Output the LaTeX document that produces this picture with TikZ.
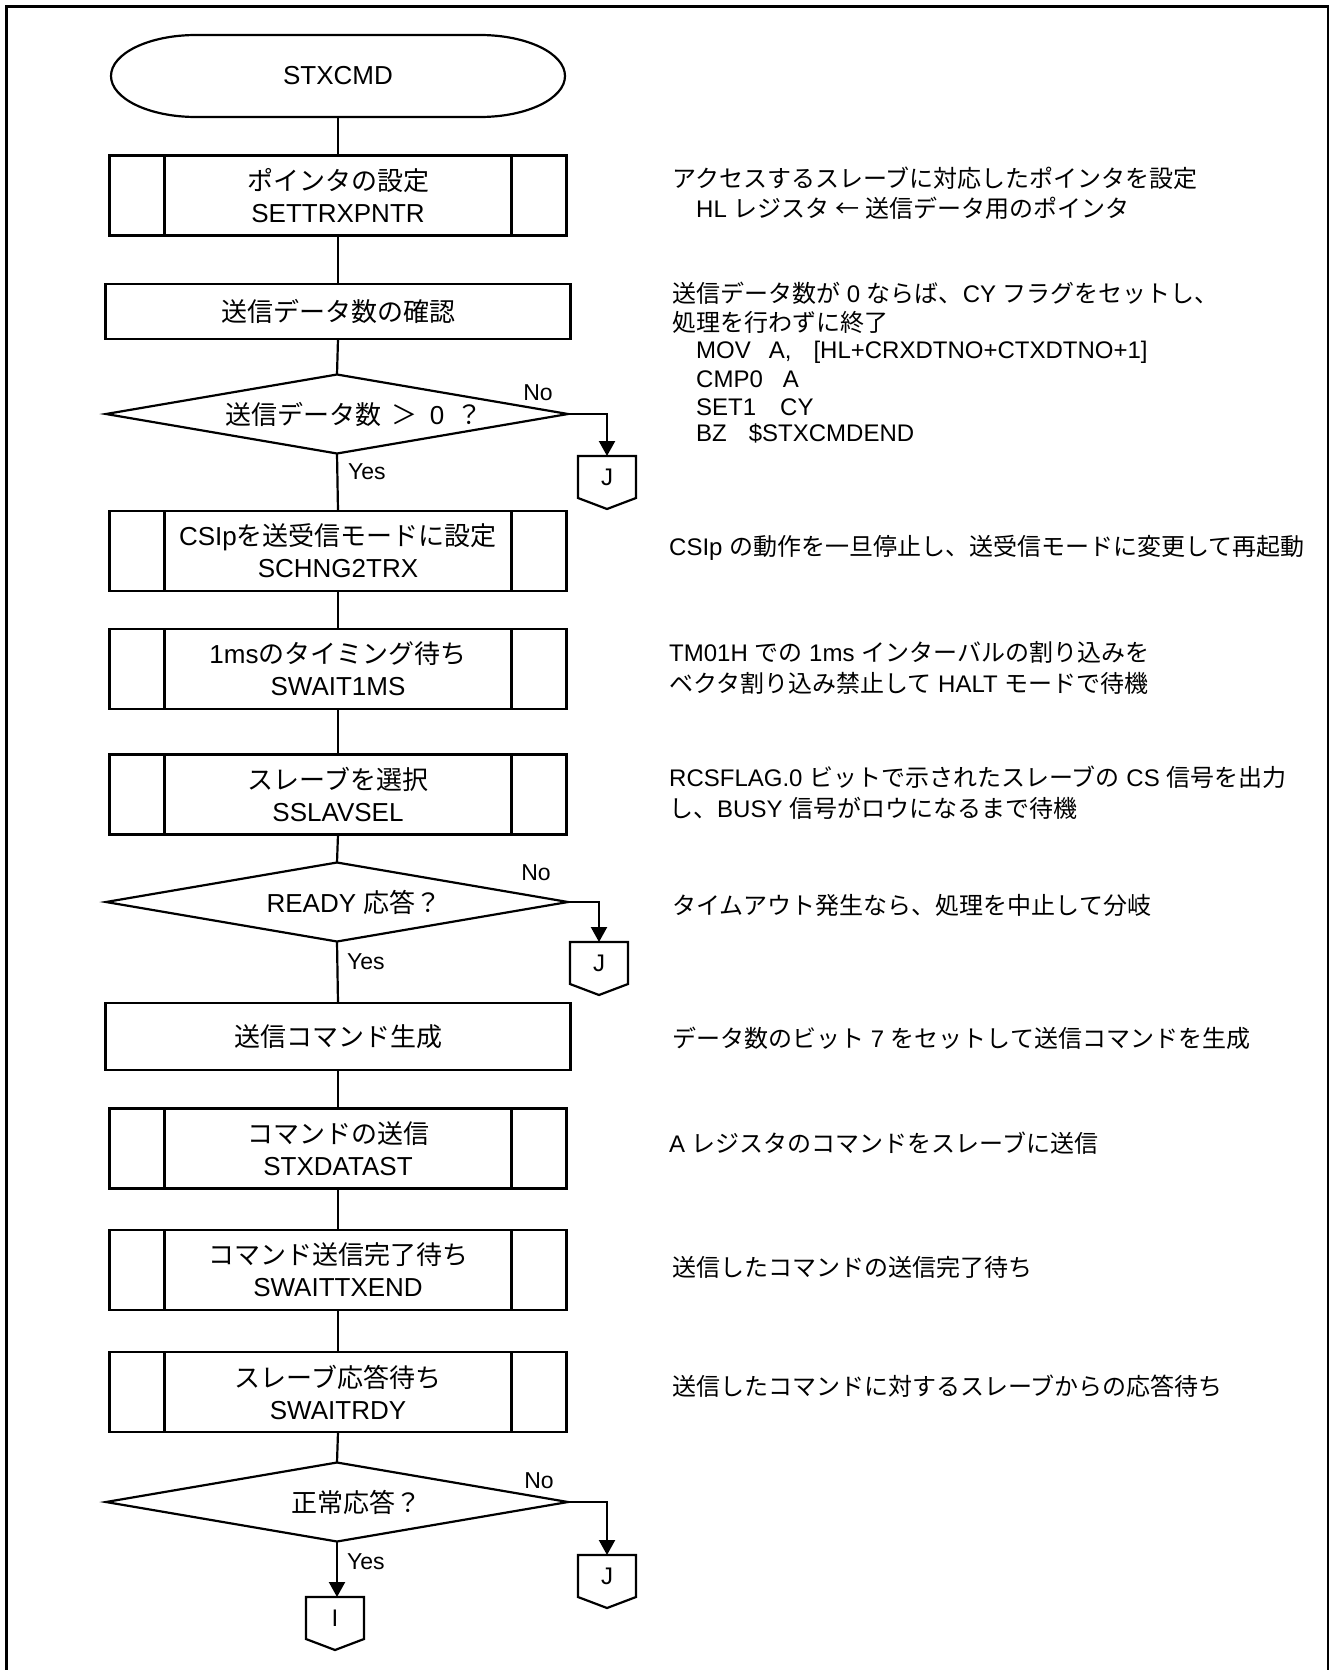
\documentclass[tikz,border=0pt]{standalone}
\usepackage{fontspec}
\setmainfont{Liberation Sans}
\newfontfamily\jpfont{Noto Sans CJK JP}
\newfontfamily\lafont{Liberation Sans}
\XeTeXinterchartokenstate=1
\newXeTeXintercharclass\JPclass
\newcount\jpc
\def\jprange#1#2{\jpc=#1\relax\loop\XeTeXcharclass\jpc=\JPclass\relax\ifnum\jpc<#2\relax\advance\jpc by 1\relax\repeat}
\jprange{"3000}{"30FF}
\jprange{"4E00}{"9FFF}
\jprange{"FF01}{"FF5E}
\XeTeXcharclass"2190=\JPclass
\XeTeXinterchartoks 0 \JPclass = {\jpfont}
\XeTeXinterchartoks 4095 \JPclass = {\jpfont}
\XeTeXinterchartoks \JPclass 0 = {\lafont}
\XeTeXinterchartoks \JPclass 4095 = {\lafont}
\usetikzlibrary{arrows.meta,shapes.geometric}
\newcommand\drawpent[1]{\draw[lw] (#1.south west) -- (#1.north west) -- (#1.north east) -- (#1.south east) -- ([yshift=-11pt]#1.south) -- cycle;}
\begin{document}
\begin{tikzpicture}[x=1pt,y=-1pt,
  lw/.style={line width=2.2pt},
  flow/.style={lw, draw, inner sep=0pt, outer sep=0pt, align=center, font=\fontsize{26}{32}\selectfont},
  procbox/.style={flow, rectangle, minimum width=465pt},
  predef/.style={flow, rectangle, minimum width=457pt, minimum height=80pt},
  term/.style={inner sep=0pt, outer sep=0pt, align=center, font=\fontsize{26}{32}\selectfont, rectangle, minimum width=454pt, minimum height=82pt},
  dec/.style={lw, draw, diamond, inner sep=0pt, outer sep=0pt, minimum width=462pt, minimum height=79pt},
  dectext/.style={font=\fontsize{26}{32}\selectfont, inner sep=0pt},
  conn/.style={rectangle, inner sep=0pt, outer sep=0pt, minimum width=58pt, minimum height=42pt, font=\fontsize{24}{28}\selectfont},
  yn/.style={font=\fontsize{23}{28}\selectfont, inner sep=0pt},
  note/.style={anchor=west, inner sep=0pt, font=\fontsize{24}{30}\selectfont},
  arr/.style={lw, -{Triangle[length=15pt,width=16pt]}},
]
\useasboundingbox (0,0) rectangle (1330,1670);
\draw[line width=2.5pt] (6.7,1672) -- (6.7,6.7) -- (1328,6.7) -- (1328,1672);

% flow column
\node[term] (t) at (338,76) {STXCMD};
\draw[lw] ([xshift=85pt]t.north west) -- ([xshift=-85pt]t.north east)
  arc[start angle=90, end angle=-90, x radius=85pt, y radius=41pt]
  -- ([xshift=85pt]t.south west)
  arc[start angle=270, end angle=90, x radius=85pt, y radius=41pt] -- cycle;
\node[predef] (b1) at (338,195.5) {ポインタの設定\\SETTRXPNTR};
\node[procbox, minimum height=55pt] (b2) at (338,311.5) {送信データ数の確認};
\node[dec] (d1) at (337,414) {};
\node[dectext] (d1t) at (354,414) {送信データ数\hspace{10pt}＞\hspace{12pt}0\hspace{12pt}？};
\node[predef] (b3) at (338,551) {CSIpを送受信モードに設定\\SCHNG2TRX};
\node[predef] (b4) at (338,669) {1msのタイミング待ち\\SWAIT1MS};
\node[predef] (b5) at (338,794.5) {スレーブを選択\\SSLAVSEL};
\node[dec] (d2) at (337,902) {};
\node[dectext] (d2t) at (354,902) {READY 応答？};
\node[procbox, minimum height=67pt] (b6) at (338,1036.5) {送信コマンド生成};
\node[predef] (b7) at (338,1148.5) {コマンドの送信\\STXDATAST};
\node[predef] (b8) at (338,1270) {コマンド送信完了待ち\\SWAITTXEND};
\node[predef] (b9) at (338,1392) {スレーブ応答待ち\\SWAITRDY};
\node[dec] (d3) at (337,1502) {};
\node[dectext] (d3t) at (356,1502) {正常応答？};

\foreach \n in {b1,b3,b4,b5,b7,b8,b9}{
  \draw[lw] ([xshift=55pt]\n.north west) -- ([xshift=55pt]\n.south west);
  \draw[lw] ([xshift=-55pt]\n.north east) -- ([xshift=-55pt]\n.south east);
}

% connectors
\node[conn] (j1) at (607,477) {J};
\node[conn] (j2) at (599,963) {J};
\node[conn] (j3) at (607,1576) {J};
\node[conn] (i1) at (335,1618) {I};
\drawpent{j1}
\drawpent{j2}
\drawpent{j3}
\drawpent{i1}

\draw[lw] (t.south) -- (b1.north);
\draw[lw] (b1.south) -- (b2.north);
\draw[lw] (b2.south) -- (d1.north);
\draw[lw] (d1.south) -- (b3.north);
\draw[lw] (b3.south) -- (b4.north);
\draw[lw] (b4.south) -- (b5.north);
\draw[lw] (b5.south) -- (d2.north);
\draw[lw] (d2.south) -- (b6.north);
\draw[lw] (b6.south) -- (b7.north);
\draw[lw] (b7.south) -- (b8.north);
\draw[lw] (b8.south) -- (b9.north);
\draw[lw] (b9.south) -- (d3.north);
\draw[arr] (d1.east) -| (j1.north);
\draw[arr] (d2.east) -| (j2.north);
\draw[arr] (d3.east) -| (j3.north);
\draw[arr] (d3.south) -- (d3.south |- i1.north);

\node[yn] (no1) at (538,393) {No};
\node[yn] (no2) at (536,873) {No};
\node[yn] (no3) at (539,1481) {No};
\node[yn, anchor=west] (yes1) at (348,472) {Yes};
\node[yn, anchor=west] (yes2) at (347,962) {Yes};
\node[yn, anchor=west] (yes3) at (347,1562) {Yes};

% notes
\node[note] (r1a) at (672,178) {アクセスするスレーブに対応したポインタを設定};
\node[note] (r1b) at (696,208) {HL レジスタ\hspace{6pt}←\hspace{6pt}送信データ用のポインタ};
\node[note] (r2a) at (672,293) {送信データ数が 0 ならば、CY フラグをセットし、};
\node[note] (r2b) at (672,322) {処理を行わずに終了};
\node[note] (r2c) at (696,352) {MOV\hspace{18pt}A,\hspace{22pt}[HL+CRXDTNO+CTXDTNO+1]};
\node[note] (r2d) at (696,379) {CMP0\hspace{20pt}A};
\node[note] (r2e) at (696,407) {SET1\hspace{24pt}CY};
\node[note] (r2f) at (696,433) {BZ\hspace{22pt}\$STXCMDEND};
\node[note] (r3) at (669,548) {CSIp の動作を一旦停止し、送受信モードに変更して再起動};
\node[note] (r4a) at (669,652) {TM01H での 1ms インターバルの割り込みを};
\node[note] (r4b) at (669,683) {ベクタ割り込み禁止して HALT モードで待機};
\node[note] (r5a) at (669,777) {RCSFLAG.0 ビットで示されたスレーブの CS 信号を出力};
\node[note] (r5b) at (669,808) {し、BUSY 信号がロウになるまで待機};
\node[note] (r6) at (672,905) {タイムアウト発生なら、処理を中止して分岐};
\node[note] (r7) at (672,1038) {データ数のビット 7 をセットして送信コマンドを生成};
\node[note] (r8) at (669,1143) {A レジスタのコマンドをスレーブに送信};
\node[note] (r9) at (672,1267) {送信したコマンドの送信完了待ち};
\node[note] (r10) at (672,1386) {送信したコマンドに対するスレーブからの応答待ち};
\end{tikzpicture}
\end{document}
